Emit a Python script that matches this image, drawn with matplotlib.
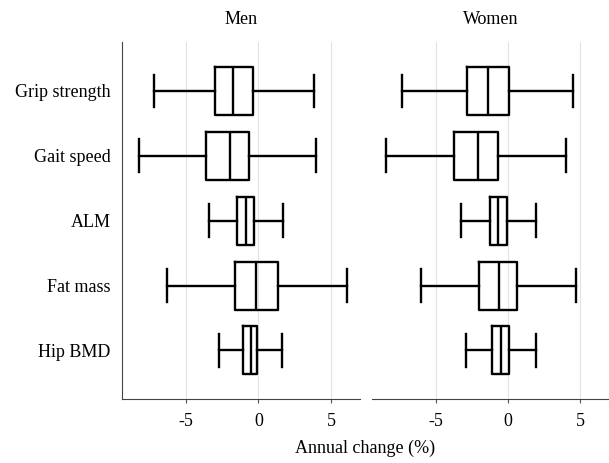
import matplotlib.pyplot as plt

plt.rcParams['font.family'] = ['Liberation Serif', 'DejaVu Serif']

measures = ['Grip strength', 'Gait speed', 'ALM', 'Fat mass', 'Hip BMD']
panels = ['Men', 'Women']

# whisker low, Q1, median, Q3, whisker high (annual % change)
men_low = [-7.2, -8.25, -3.43, -6.31, -2.70]
men_q1 = [-3.01, -3.59, -1.45, -1.63, -1.06]
men_med = [-1.73, -1.94, -0.83, -0.18, -0.51]
men_q3 = [-0.35, -0.67, -0.28, 1.38, -0.09]
men_high = [3.83, 3.99, 1.68, 6.08, 1.61]

women_low = [-7.33, -8.45, -3.22, -6.03, -2.94]
women_q1 = [-2.81, -3.71, -1.24, -2.00, -1.08]
women_med = [-1.36, -2.05, -0.66, -0.62, -0.46]
women_q3 = [0.07, -0.69, -0.07, 0.62, 0.05]
women_high = [4.49, 4.01, 1.91, 4.73, 1.91]

xticks = [-5, 0, 5]


def make_stats(low, q1, med, q3, high):
    return [{'whislo': a, 'q1': b, 'med': c, 'q3': d, 'whishi': e, 'fliers': []}
            for a, b, c, d, e in zip(low, q1, med, q3, high)]


data = {
    'Men': make_stats(men_low, men_q1, men_med, men_q3, men_high),
    'Women': make_stats(women_low, women_q1, women_med, women_q3, women_high),
}

fig = plt.figure(figsize=(6.09, 4.63), dpi=100)
ax_men = fig.add_axes([0.2003, 0.138, 0.3907, 0.771])
ax_women = fig.add_axes([0.6108, 0.138, 0.3892, 0.771])

lw = 1.7
for ax, name in zip([ax_men, ax_women], panels):
    ax.bxp(data[name], positions=range(len(measures)), vert=False, widths=0.74,
           showfliers=False, showcaps=True,
           boxprops=dict(color='black', linewidth=lw),
           whiskerprops=dict(color='black', linewidth=lw),
           capprops=dict(color='black', linewidth=lw),
           medianprops=dict(color='black', linewidth=lw),
           capwidths=0.5)
    ax.set_xlim(-9.42, 7.0)
    ax.set_ylim(4.75, -0.75)
    ax.set_xticks(xticks)
    ax.set_xticklabels([str(t) for t in xticks], fontsize=13)
    ax.tick_params(axis='x', length=3, color='#555555', pad=7)
    ax.tick_params(axis='y', length=0)
    ax.grid(axis='x', color='#e3e3e3', linewidth=0.8)
    ax.set_axisbelow(True)
    ax.set_title(name, fontsize=13, pad=13)
    for s in ['top', 'right']:
        ax.spines[s].set_visible(False)
    ax.spines['bottom'].set_color('#444444')
    ax.spines['left'].set_color('#444444')

ax_men.set_yticks(range(len(measures)))
ax_men.set_yticklabels(measures, fontsize=13)
ax_men.tick_params(axis='y', pad=8)
ax_women.spines['left'].set_visible(False)
ax_women.set_yticks([])

fig.text(0.6, 0.032, 'Annual change (%)', ha='center', va='center', fontsize=13)

fig.savefig('out.png', dpi=100)
